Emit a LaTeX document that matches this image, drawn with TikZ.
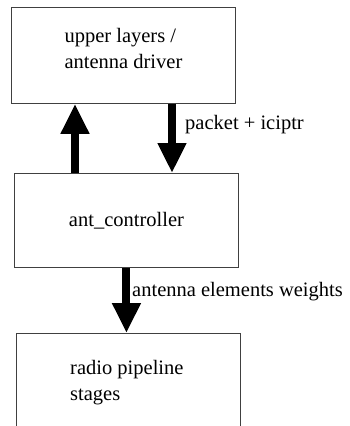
\documentclass[tikz,border=0pt]{standalone}
\usepackage{fontspec}
\setmainfont{Liberation Serif}
\usetikzlibrary{arrows.meta}
\begin{document}
\begin{tikzpicture}[x=1pt,y=-1pt,
font=\fontsize{20.5}{26}\selectfont,
blockbox/.style={draw=black!75,rectangle,line width=0.9pt,inner sep=0pt,anchor=north west},
fatarrow/.style={line width=8pt,-{Triangle[width=27pt,length=30pt]}}]
\useasboundingbox (0,0) rectangle (349,426);
\clip (0,0) rectangle (349,426);
\draw (11,7) node[blockbox,minimum width=224pt,minimum height=96pt,align=left,text depth=14pt] (upper) {upper layers /\\antenna driver};
\draw (14,173) node[blockbox,minimum width=224pt,minimum height=94pt] (ctrl) {ant\_controller};
\draw (16,333) node[blockbox,minimum width=224pt,minimum height=110pt] (radio) {};
\draw (70,360) node[anchor=north west,align=left,inner sep=0pt] (radiotxt) {radio pipeline\\stages};
\coordinate (upx) at (75,0);
\coordinate (downx) at (172,0);
\draw[fatarrow] (ctrl.north -| upx) -- (upper.south -| upx);
\draw[fatarrow] (upper.south -| downx) -- (ctrl.north -| downx);
\draw[fatarrow] (ctrl.south) -- (ctrl.south |- radio.north);
\draw (185,125) node[right,inner sep=0pt] (pkt) {packet + iciptr};
\draw (132,292) node[right,inner sep=0pt] (wts) {antenna elements weights};
\end{tikzpicture}
\end{document}
